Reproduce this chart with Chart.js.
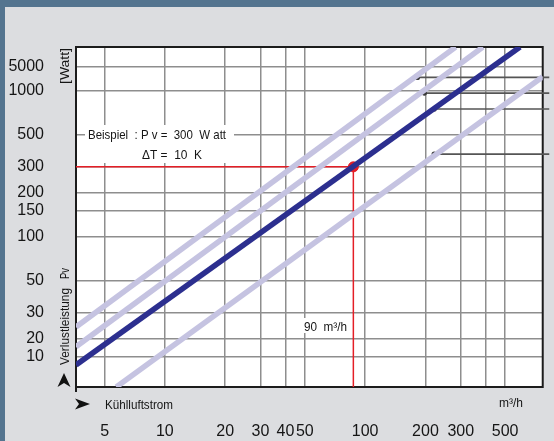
<!DOCTYPE html>
<html><head><meta charset="utf-8">
<style>
html,body{margin:0;padding:0;width:554px;height:441px;overflow:hidden;background:#54748f;}
#panel{position:absolute;left:5px;top:7px;right:0;bottom:0;background:#dcdde0;}
#wrap{position:absolute;left:0;top:0;width:554px;height:441px;}
</style>
<script src="https://cdn.jsdelivr.net/npm/chart.js@4/dist/chart.umd.min.js"></script>
</head><body><div id="panel"></div><div id="wrap"><canvas id="c" width="554" height="441"></canvas></div>
<script>
// ---- data ----
const xTickValues = [5, 10, 20, 30, 40, 50, 100, 200, 300, 400, 500];
const xTickLabels = ['5', '10', '20', '30', '40', '50', '100', '200', '300', '', '500'];
const yTickValues = [15, 20, 30, 50, 100, 150, 200, 300, 500, 1000, 1450];
const yTickLabels = ['10', '20', '30', '50', '100', '150', '200', '300', '500', '1000', '5000'];
const xRange = [3.6, 770];
const yRange = [9.316, 1986];
// characteristic lines (Kühlluftstrom m³/h, Verlustleistung W)
const lineA = [{x: 3.6, y: 24}, {x: 283, y: 1986}];
const lineB = [{x: 3.6, y: 17.6}, {x: 387, y: 1986}];
const lineMain = [{x: 3.6, y: 13.2}, {x: 593, y: 1986}];
const lineD = [{x: 5.72, y: 9.316}, {x: 770, y: 1243}];
// example
const exampleFlow = 87.3;
const examplePower = 300;
// pointer lines (start points), they run to the right edge
const pointerStarts = [{x: 182.4, y: 1230}, {x: 197.5, y: 961}, {x: 221, y: 747}, {x: 221, y: 367}];
const pointerEndX = 830;

const FONT = "'Liberation Sans',Arial,sans-serif";
const LIGHT = '#c5c3e1';
const DARK = '#2c2f8f';
const RED = '#e41e26';
const GRID = '#8e8e8e';
const TXT = '#151515';

function lineDs(data, color, width) {
  return {data: data, borderColor: color, borderWidth: width, pointRadius: 0, showLine: true, fill: false, borderCapStyle: 'butt'};
}
const datasets = [
  lineDs(lineA, LIGHT, 5.5),
  lineDs(lineB, LIGHT, 5.5),
  lineDs(lineD, LIGHT, 5.5),
  lineDs(lineMain, DARK, 5.5),
  lineDs([{x: xRange[0], y: examplePower}, {x: exampleFlow, y: examplePower}], RED, 1.5),
  lineDs([{x: exampleFlow, y: examplePower}, {x: exampleFlow, y: yRange[0]}], RED, 1.5),
  {data: [{x: exampleFlow, y: examplePower}], showLine: false, pointRadius: 5, backgroundColor: RED, borderColor: RED, borderWidth: 1}
];
pointerStarts.forEach(p => {
  datasets.push({data: [p, {x: pointerEndX, y: p.y}], showLine: true, borderColor: '#555', borderWidth: 1.7,
    pointRadius: [2.6, 0], pointBackgroundColor: '#3a3a3a', pointBorderWidth: 0, clip: false});
});

function fitText(ctx, text, x, y, w, size, rot) {
  ctx.font = size + 'px ' + FONT;
  const m = ctx.measureText(text).width;
  ctx.save();
  ctx.translate(x, y);
  if (rot) ctx.rotate(-Math.PI / 2);
  ctx.scale(w / m, 1);
  ctx.fillText(text, 0, 0);
  ctx.restore();
}

const deco = {
  id: 'deco',
  beforeDraw(chart) {
    const {ctx, chartArea: a} = chart;
    ctx.save();
    ctx.fillStyle = '#ffffff';
    ctx.fillRect(a.left, a.top, a.right - a.left, a.bottom - a.top);
    ctx.restore();
  },
  beforeDatasetsDraw(chart) {
    const {ctx, chartArea: a} = chart;
    ctx.save();
    ctx.fillStyle = '#ffffff';
    ctx.fillRect(85, 125, 149, 38);
    ctx.fillRect(301, 318, 48, 15);
    ctx.fillStyle = TXT;
    ctx.textBaseline = 'middle';
    ctx.textAlign = 'left';
    fitText(ctx, 'Beispiel  : P v =  300  W att', 88, 135, 138, 13.5);
    fitText(ctx, '\u0394T =  10  K', 142, 155, 60, 13.5);
    fitText(ctx, '90  m\u00b3/h', 304, 327, 43, 13.5);
    ctx.strokeStyle = '#1c1c1c';
    ctx.lineWidth = 2;
    ctx.strokeRect(a.left, a.top, a.right - a.left, a.bottom - a.top);
    ctx.beginPath();
    ctx.moveTo(a.left, a.bottom);
    ctx.lineTo(a.left, a.bottom + 5);
    ctx.stroke();
    ctx.restore();
  },
  afterDraw(chart) {
    const {ctx} = chart;
    ctx.save();
    ctx.fillStyle = TXT;
    ctx.textBaseline = 'middle';
    ctx.textAlign = 'left';
    fitText(ctx, 'K\u00fchlluftstrom', 105, 405, 68, 13.5);
    fitText(ctx, 'm\u00b3/h', 499, 403, 24, 13.5);
    fitText(ctx, '[Watt]', 65, 84, 36, 13.5, true);
    fitText(ctx, 'Verlustleistung', 65, 365, 77, 13.5, true);
    fitText(ctx, 'Pv', 65, 279, 11, 13.5, true);
    ctx.fillStyle = '#111';
    ctx.beginPath();
    ctx.moveTo(64, 373); ctx.lineTo(70.5, 387); ctx.lineTo(64, 383); ctx.lineTo(57.5, 387); ctx.closePath();
    ctx.fill();
    ctx.beginPath();
    ctx.moveTo(90, 404); ctx.lineTo(75, 398.5); ctx.lineTo(79, 404); ctx.lineTo(75, 409.5); ctx.closePath();
    ctx.fill();
    ctx.restore();
  }
};

new Chart(document.getElementById('c'), {
  type: 'scatter',
  data: {datasets: datasets},
  options: {
    responsive: false,
    animation: false,
    devicePixelRatio: 1,
    layout: {padding: {top: 47, right: 5, left: 0, bottom: 0}},
    plugins: {legend: {display: false}, tooltip: {enabled: false}},
    events: [],
    scales: {
      x: {
        type: 'logarithmic', position: 'bottom', bounds: 'data',
        min: xRange[0], max: xRange[1],
        afterBuildTicks: s => { s.ticks = xTickValues.map(v => ({value: v})); },
        afterFit: s => { s.height = 54; },
        ticks: {autoSkip: false, maxRotation: 0, minRotation: 0, padding: 35, color: TXT,
          font: {family: FONT, size: 16}, callback: (v, i) => xTickLabels[i]},
        grid: {color: GRID, lineWidth: 1.5, drawTicks: false},
        border: {display: false}
      },
      y: {
        type: 'logarithmic', position: 'left', bounds: 'data',
        min: yRange[0], max: yRange[1],
        afterBuildTicks: s => { s.ticks = yTickValues.map(v => ({value: v})); },
        afterFit: s => { s.width = 76; },
        ticks: {autoSkip: false, padding: 32, color: TXT,
          font: {family: FONT, size: 16}, callback: (v, i) => yTickLabels[i]},
        grid: {color: GRID, lineWidth: 1.5, drawTicks: false},
        border: {display: false}
      }
    }
  },
  plugins: [deco]
});
</script>
</body></html>
